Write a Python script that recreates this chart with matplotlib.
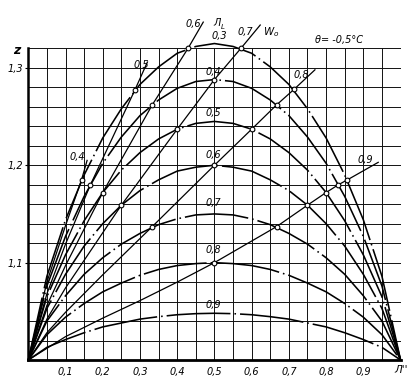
import matplotlib
matplotlib.use("Agg")
import matplotlib.pyplot as plt

# ---- data ----
x_grid = [0.0, 0.05, 0.1, 0.15, 0.2, 0.25, 0.3, 0.35, 0.4, 0.45, 0.5,
          0.55, 0.6, 0.65, 0.7, 0.75, 0.8, 0.85, 0.9, 0.95, 1.0]

dome_labels = ["0,3", "0,4", "0,5", "0,6", "0,7", "0,8", "0,9"]
dome_03 = [1.0, 1.086, 1.144, 1.190, 1.228, 1.258, 1.283, 1.301, 1.315, 1.322, 1.325,
           1.322, 1.315, 1.301, 1.283, 1.258, 1.228, 1.190, 1.144, 1.086, 1.0]
dome_04 = [1.0, 1.076, 1.127, 1.168, 1.202, 1.229, 1.251, 1.267, 1.279, 1.286, 1.288,
           1.286, 1.279, 1.267, 1.251, 1.229, 1.202, 1.168, 1.127, 1.076, 1.0]
dome_05 = [1.0, 1.065, 1.108, 1.143, 1.172, 1.195, 1.213, 1.227, 1.237, 1.243, 1.245,
           1.243, 1.237, 1.227, 1.213, 1.195, 1.172, 1.143, 1.108, 1.065, 1.0]
dome_06 = [1.0, 1.053, 1.088, 1.117, 1.140, 1.159, 1.174, 1.185, 1.194, 1.198, 1.200,
           1.198, 1.194, 1.185, 1.174, 1.159, 1.140, 1.117, 1.088, 1.053, 1.0]
dome_07 = [1.0, 1.040, 1.066, 1.088, 1.105, 1.119, 1.130, 1.139, 1.145, 1.149, 1.150,
           1.149, 1.145, 1.139, 1.130, 1.119, 1.105, 1.088, 1.066, 1.040, 1.0]
dome_08 = [1.0, 1.026, 1.044, 1.058, 1.070, 1.079, 1.087, 1.093, 1.097, 1.099, 1.100,
           1.099, 1.097, 1.093, 1.087, 1.079, 1.070, 1.058, 1.044, 1.026, 1.0]
dome_09 = [1.0, 1.013, 1.021, 1.028, 1.034, 1.038, 1.042, 1.0445, 1.0465, 1.0476, 1.048,
           1.0476, 1.0465, 1.0445, 1.042, 1.038, 1.034, 1.028, 1.021, 1.013, 1.0]
domes = [dome_03, dome_04, dome_05, dome_06, dome_07, dome_08, dome_09]
dome_label_z = [1.333, 1.2957, 1.2536, 1.2105, 1.161, 1.113, 1.0565]

# W0 lines (x, z) with intersection markers
w_labels = ["0,4", "0,5", "0,6", "0,7", "0,8", "0,9"]
w04_x = [0.0, 0.05, 0.1, 0.143, 0.158]
w04_z = [1.0, 1.080, 1.138, 1.185, 1.205]
w05_x = [0.0, 0.05, 0.1, 0.167, 0.286, 0.320]
w05_z = [1.0, 1.068, 1.119, 1.180, 1.277, 1.306]
w06_x = [0.0, 0.05, 0.1, 0.2, 0.333, 0.429, 0.47]
w06_z = [1.0, 1.056, 1.097, 1.172, 1.262, 1.320, 1.347]
w07_x = [0.0, 0.05, 0.1, 0.25, 0.4, 0.5, 0.571, 0.623]
w07_z = [1.0, 1.042, 1.074, 1.159, 1.237, 1.288, 1.320, 1.344]
w08_x = [0.0, 0.05, 0.1, 0.2, 0.333, 0.5, 0.6, 0.667, 0.714, 0.77]
w08_z = [1.0, 1.028, 1.049, 1.0875, 1.137, 1.200, 1.237, 1.262, 1.278, 1.298]
w09_x = [0.0, 0.1, 0.2, 0.3, 0.4, 0.5, 0.667, 0.75, 0.8, 0.833, 0.857, 0.94]
w09_z = [1.0, 1.024, 1.043, 1.061, 1.080, 1.100, 1.137, 1.159, 1.172, 1.180, 1.185, 1.203]
w_lines = [(w04_x, w04_z), (w05_x, w05_z), (w06_x, w06_z),
           (w07_x, w07_z), (w08_x, w08_z), (w09_x, w09_z)]
# which points of each W line are marked (skip origin, intermediates and end)
w_marks = [[3], [3, 4], [3, 4, 5], [3, 4, 5, 6], [4, 5, 6, 7, 8], [5, 6, 7, 8, 9, 10]]
w_label_pos = [(0.131, 1.208), (0.303, 1.303), (0.443, 1.345),
               (0.584, 1.337), (0.734, 1.2926), (0.906, 1.205)]

x_ticks = [0.1, 0.2, 0.3, 0.4, 0.5, 0.6, 0.7, 0.8, 0.9]
x_tick_labels = ["0,1", "0,2", "0,3", "0,4", "0,5", "0,6", "0,7", "0,8", "0,9"]
y_ticks = [1.1, 1.2, 1.3]
y_tick_labels = ["1,1", "1,2", "1,3"]

# ---- figure ----
fig = plt.figure(figsize=(4.19, 3.90), dpi=100)
ax = fig.add_axes([0.0675, 0.0769, 0.8885, 0.799])
ax.set_xlim(0, 1.0)
ax.set_ylim(1.0, 1.32)

# graph-paper grid
gx = [i * 0.05 for i in range(21)]
gz = [1.0 + i * 0.02 for i in range(17)]
ax.vlines(gx, 1.0, 1.32, colors="#111111", lw=0.7, zorder=1)
ax.hlines(gz, 0, 1.0, colors="#111111", lw=0.7, zorder=1)

for s in ["top", "right"]:
    ax.spines[s].set_visible(False)
ax.spines["left"].set_linewidth(1.8)
ax.spines["bottom"].set_linewidth(2.0)

ax.set_xticks(x_ticks)
ax.set_xticklabels(x_tick_labels, fontsize=7, style="italic")
ax.tick_params(axis="x", length=0, pad=5)
ax.set_yticks(y_ticks)
ax.set_yticklabels(y_tick_labels, fontsize=7, style="italic")
ax.tick_params(axis="y", length=2.5, width=0.8, pad=1.5, direction="out")

dash = (0, (40, 2.5, 1, 2.5))
for zs, lab, lz in zip(domes, dome_labels, dome_label_z):
    ax.plot(x_grid, zs, color="black", lw=1.15, linestyle=dash, clip_on=False, zorder=3)
    ax.text(0.497 if lab != "0,3" else 0.513, lz, lab, fontsize=7, style="italic",
            ha="center", va="center", clip_on=False)

for (xs, zs), marks, lab, (lx, lz) in zip(w_lines, w_marks, w_labels, w_label_pos):
    ax.plot(xs, zs, color="black", lw=0.9, clip_on=False, zorder=3)
    ax.plot([xs[i] for i in marks], [zs[i] for i in marks], linestyle="none",
            marker="o", ms=3.4, mfc="white", mec="black", mew=0.8, zorder=4,
            clip_on=False)
    ax.text(lx, lz, lab, fontsize=7, style="italic", ha="center", va="center",
            clip_on=False)

# family labels
ax.text(0.507, 1.346, "Л", fontsize=7, style="italic", ha="center", va="center", clip_on=False)
ax.text(0.523, 1.342, "L", fontsize=5, style="italic", ha="center", va="center", clip_on=False)
ax.text(0.652, 1.337, r"$W_o$", fontsize=7.5, ha="center", va="center", clip_on=False)
ax.text(0.835, 1.3285, "θ= -0,5°C", fontsize=7, style="italic", ha="center", va="center",
        clip_on=False)
ax.text(-0.030, 1.318, "z", fontsize=9, fontweight="bold", style="italic",
        ha="center", va="center", clip_on=False)
ax.text(1.0, 0.9897, "Л''", fontsize=7.5, style="italic", ha="center", va="center",
        clip_on=False)

fig.savefig("out.png", dpi=100)
